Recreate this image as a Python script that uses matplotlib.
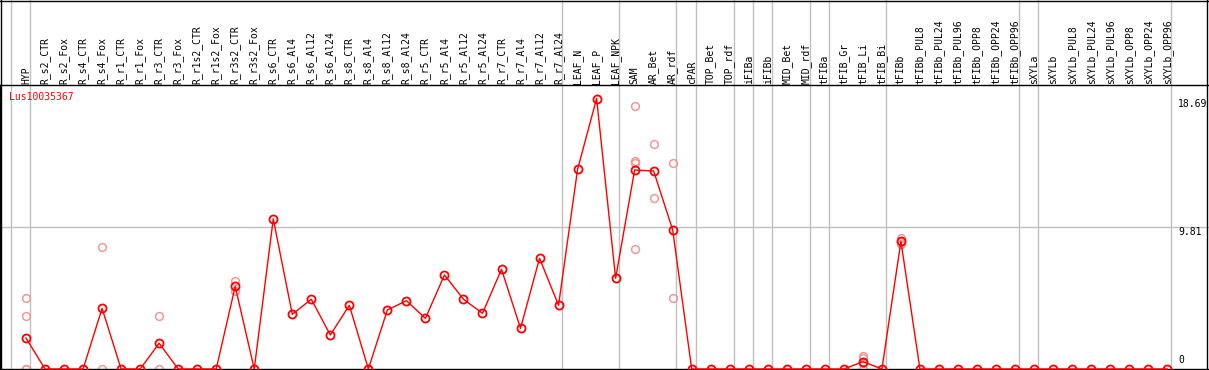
import matplotlib.pyplot as plt
from matplotlib.lines import Line2D

# sample labels (columns) in plotting order
samples = ["HYP", "R_s2_CTR", "R_s2_Fox", "R_s4_CTR", "R_s4_Fox", "R_r1_CTR", "R_r1_Fox",
           "R_r3_CTR", "R_r3_Fox", "R_r1s2_CTR", "R_r1s2_Fox", "R_r3s2_CTR", "R_r3s2_Fox",
           "R_s6_CTR", "R_s6_Al4", "R_s6_Al12", "R_s6_Al24",
           "R_s8_CTR", "R_s8_Al4", "R_s8_Al12", "R_s8_Al24",
           "R_r5_CTR", "R_r5_Al4", "R_r5_Al12", "R_r5_Al24",
           "R_r7_CTR", "R_r7_Al4", "R_r7_Al12", "R_r7_Al24",
           "LEAF_N", "LEAF_P", "LEAF_NPK", "SAM", "AR_Bet", "AR_rdf", "cPAR",
           "TOP_Bet", "TOP_rdf", "iFIBa", "iFIBb", "MID_Bet", "MID_rdf",
           "tFIBa", "tFIB_Gr", "tFIB_Li", "tFIB_Bi", "tFIBb",
           "tFIBb_PUL8", "tFIBb_PUL24", "tFIBb_PUL96", "tFIBb_OPP8", "tFIBb_OPP24", "tFIBb_OPP96",
           "sXYLa", "sXYLb", "sXYLb_PUL8", "sXYLb_PUL24", "sXYLb_PUL96",
           "sXYLb_OPP8", "sXYLb_OPP24", "sXYLb_OPP96"]

# mean expression per sample
means = [2.14, 0, 0, 0, 4.19, 0, 0, 1.78, 0, 0, 0, 5.71, 0,
         10.37, 3.78, 4.82, 2.35,
         4.40, 0, 4.08, 4.72,
         3.50, 6.50, 4.82, 3.85,
         6.89, 2.81, 7.65, 4.40,
         13.80, 18.69, 6.27, 13.75, 13.68, 9.61, 0,
         0, 0, 0, 0, 0, 0,
         0, 0, 0.51, 0, 8.82,
         0, 0, 0, 0, 0, 0,
         0, 0, 0, 0, 0, 0, 0, 0]

# individual replicates (only where they show)
replicates = {
    "HYP": [4.89, 3.64, 0, 0],
    "R_s4_Fox": [8.41, 0],
    "R_r3_CTR": [3.64, 0],
    "R_r3s2_CTR": [6.08, 5.41],
    "SAM": [18.18, 14.38, 14.22, 8.29],
    "AR_Bet": [15.55, 11.80],
    "AR_rdf": [14.22, 4.89],
    "tFIB_Li": [0.90, 0.74, 0.40, 0],
    "tFIBb": [9.05, 8.80, 8.64],
}

# group separators sit just after these column indices
group_ends = [-1, 0, 28, 31, 34, 35, 37, 38, 39, 41, 42, 45, 52, 53, 60]

gene = "Lus10035367"
y_max = 18.69
y_mid = 9.81

W, H = 1209, 370
step = 19.02
x0 = 26
fig = plt.figure(figsize=(W / 100, H / 100), dpi=100)
ax = fig.add_axes([0, 1 / H, 1, 284 / H])
ax.set_xlim(-x0 / step, (W - x0) / step)
ax.set_ylim(0, y_max * 1.05)
ax.set_xticks([])
ax.set_yticks([])
for s in ax.spines.values():
    s.set_linewidth(1)
ax.spines['right'].set_visible(False)

grey = '#c0c0c0'
top_frac = 369 / 284
for g in group_ends:
    ax.axvline(g + 0.2, 0, top_frac, color=grey, lw=1, clip_on=False, zorder=1)
ax.axhline(y_mid, color=grey, lw=1, zorder=1)

xs = list(range(len(samples)))
for name, vals in replicates.items():
    i = samples.index(name)
    ax.plot([i] * len(vals), vals, 'o', mfc='none', mec='#f09898', ms=5.6, mew=1.1,
            clip_on=False, zorder=2)
ax.plot(xs, means, '-', color='red', lw=1, zorder=3, clip_on=False)
ax.plot(xs, means, 'o', mfc='none', mec='red', ms=5.8, mew=1.3, zorder=4, clip_on=False)

mono = 'DejaVu Sans Mono'
for i, lab in enumerate(samples):
    fig.text((x0 + i * step) / W, 1 - 83.5 / H, lab, rotation=90, ha='center', va='bottom',
             fontsize=7, family=mono)

fig.text(9 / W, 1 - 100 / H, gene, color='red', fontsize=7, family=mono, va='baseline')

xr = (1178 - x0) / step
ax.text(xr, y_max, f"{y_max:.2f}", fontsize=7, family=mono, va='top', ha='left')
ax.text(xr, y_mid, f"{y_mid:.2f}", fontsize=7, family=mono, va='top', ha='left')
ax.text(xr, 0.25, "0", fontsize=7, family=mono, va='bottom', ha='left')

# outer frame of the whole picture
for xy in [([0.5, 0.5], [0, H]), ([1206.5, 1206.5], [0, H]), ([0, W], [H - 0.5, H - 0.5])]:
    fig.add_artist(Line2D([xy[0][0] / W, xy[0][1] / W], [xy[1][0] / H, xy[1][1] / H],
                          color='black', lw=1, transform=fig.transFigure))

fig.savefig('out.png', dpi=100)
